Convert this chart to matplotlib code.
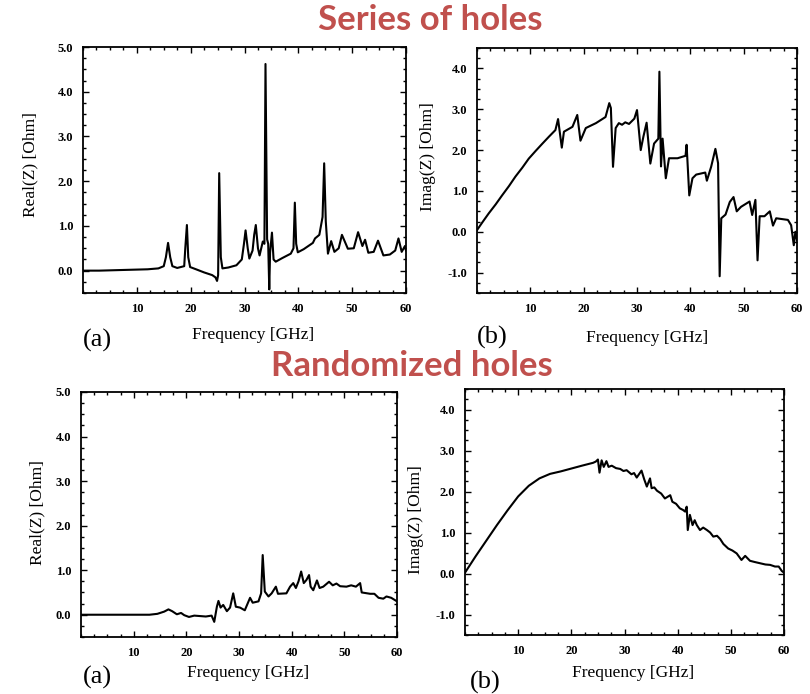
import matplotlib
matplotlib.use("Agg")
import matplotlib.pyplot as plt
from matplotlib.ticker import FixedLocator, MultipleLocator

# impedance of a pipe with a series of holes: real part
series_re_f = [0, 3, 6, 9, 12, 14, 15.0, 15.4, 15.8, 16.2, 16.6, 17.5, 18.8, 19.0, 19.3, 19.55,
               19.9, 21, 22.5, 24, 24.6, 24.9, 25.1, 25.3, 25.6, 25.9, 27, 28.5, 29.5, 29.9,
               30.2, 30.6, 30.9, 31.5, 31.8, 32.1, 32.5, 32.8, 33.4, 33.7, 33.9, 34.2, 34.4,
               34.6, 34.75, 35.1, 35.4, 35.8, 37, 38.6, 39.1, 39.35, 39.6, 39.9, 41, 42.7, 43.1,
               43.9, 44.5, 44.8, 45.1, 45.5, 46.1, 46.7, 47.5, 48.1, 49.2, 50.3, 51.1, 51.9,
               52.4, 53.0, 54.0, 54.8, 55.8, 57.0, 58.0, 58.6, 59.2, 59.8, 60]
series_re_v = [0.0, 0.0, 0.01, 0.02, 0.03, 0.05, 0.1, 0.3, 0.62, 0.3, 0.1, 0.06, 0.1, 0.5, 1.02,
               0.3, 0.08, 0.03, -0.04, -0.1, -0.15, -0.23, -0.1, 2.18, 0.3, 0.05, 0.07, 0.12,
               0.25, 0.6, 0.9, 0.5, 0.27, 0.45, 0.8, 1.02, 0.5, 0.34, 0.65, 0.6, 4.62, 0.7,
               0.6, -0.42, 0.4, 0.85, 0.25, 0.2, 0.28, 0.38, 0.5, 1.52, 0.6, 0.41, 0.48, 0.62,
               0.72, 0.8, 1.2, 2.4, 1.1, 0.38, 0.66, 0.42, 0.5, 0.8, 0.49, 0.5, 0.86, 0.55,
               0.69, 0.4, 0.42, 0.67, 0.34, 0.36, 0.45, 0.72, 0.42, 0.55, 0.45]

# series of holes: imaginary part
series_im_f = [0, 1, 2.2, 3.5, 4.7, 6, 7.2, 8.5, 9.7, 11, 12.2, 13.5, 14.7, 15.2, 15.9, 16.3, 17.9,
               18.8, 19.4, 20.4, 22.3, 24.1, 24.8, 25.1, 25.5, 26.0, 26.6, 27.2, 27.8, 28.5,
               29.5, 30.0, 30.7, 31.2, 31.8, 32.5, 33.2, 34.0, 34.2, 34.5, 34.8, 35.4, 36.0,
               37.6, 39.1, 39.3, 39.8, 40.4, 41.1, 42.8, 43.1, 43.9, 44.7, 45.2, 45.5, 45.8,
               46.6, 47.4, 48.1, 48.7, 49.5, 51.1, 51.6, 52.2, 52.6, 53.0, 53.9, 54.9, 55.5,
               56.1, 58.3, 58.9, 59.4, 59.7, 60]
series_im_v = [0.04, 0.23, 0.45, 0.67, 0.89, 1.12, 1.35, 1.57, 1.79, 1.98, 2.15, 2.33, 2.49, 2.76,
               2.06, 2.45, 2.57, 2.86, 2.23, 2.54, 2.66, 2.81, 3.15, 3.03, 1.59, 2.54, 2.66,
               2.62, 2.68, 2.64, 2.77, 2.98, 2.0, 2.33, 2.67, 1.67, 2.16, 2.28, 3.92, 1.6, 2.28,
               1.31, 1.8, 1.8, 1.86, 2.13, 0.89, 1.31, 1.4, 1.45, 1.25, 1.59, 2.03, 1.68, -1.09,
               0.33, 0.42, 0.73, 0.85, 0.5, 0.61, 0.74, 0.41, 0.78, -0.7, 0.38, 0.38, 0.5, 0.15,
               0.33, 0.29, 0.16, -0.33, 0.0, -0.2]

# randomized holes: real part
rand_re_f = [0, 5, 10, 13, 14.5, 15.8, 16.6, 17.3, 18.2, 19.0, 19.6, 20.5, 21.5, 22.6, 23.7,
             24.8, 25.3, 25.8, 26.1, 26.5, 27.0, 27.7, 28.3, 28.9, 29.4, 30.2, 31.1, 32.1,
             32.6, 33.7, 34.2, 34.5, 34.9, 35.6, 36.2, 37.0, 37.4, 39.0, 39.7, 40.3, 40.8,
             41.3, 41.8, 42.3, 42.8, 43.3, 43.6, 44.1, 44.8, 45.3, 46.0, 47.1, 47.8, 48.5,
             49.2, 50.4, 51.3, 52.2, 53.0, 53.3, 54.9, 55.7, 56.5, 57.4, 58.0, 58.9, 60]
rand_re_v = [0.0, 0.0, 0.0, 0.0, 0.02, 0.07, 0.12, 0.08, 0.01, 0.04, -0.01, -0.05, -0.02, -0.03,
             -0.04, -0.02, -0.16, 0.18, 0.31, 0.16, 0.22, 0.08, 0.16, 0.48, 0.18, 0.16, 0.1,
             0.38, 0.27, 0.3, 0.48, 1.34, 0.52, 0.41, 0.48, 0.63, 0.47, 0.48, 0.63, 0.71, 0.6,
             0.75, 0.97, 0.71, 0.78, 0.89, 0.63, 0.55, 0.77, 0.6, 0.63, 0.74, 0.66, 0.7, 0.64,
             0.63, 0.66, 0.63, 0.71, 0.5, 0.47, 0.47, 0.38, 0.36, 0.41, 0.38, 0.3]

# randomized holes: imaginary part
rand_im_f = [0, 2, 4, 6, 8, 10, 12, 14, 16, 18, 20, 22, 24.1, 24.6, 25.0, 25.3, 25.7, 26.1, 26.6,
             27.0, 27.6, 28.4, 29.2, 29.8, 30.4, 31.3, 31.8, 32.3, 33.2, 33.7, 34.2, 34.8, 35.1,
             35.6, 36.1, 36.9, 37.6, 38.6, 39.0, 39.7, 40.4, 41.0, 41.4, 41.7, 41.9, 42.3, 42.8,
             43.2, 43.6, 44.2, 44.8, 45.5, 46.1, 46.7, 47.4, 48.0, 48.6, 49.5, 50.3, 51.1,
             52.0, 52.7, 53.6, 54.5, 55.5, 56.5, 57.4, 58.3, 59.0, 59.6, 60]
rand_im_v = [0.02, 0.42, 0.8, 1.18, 1.54, 1.88, 2.14, 2.32, 2.43, 2.49, 2.56, 2.63, 2.70, 2.73,
             2.78, 2.46, 2.76, 2.6, 2.74, 2.6, 2.63, 2.57, 2.55, 2.5, 2.52, 2.42, 2.45, 2.34,
             2.51, 2.3, 2.12, 2.32, 2.08, 2.1, 2.02, 1.95, 1.83, 1.91, 1.75, 1.7, 1.59, 1.55,
             1.51, 1.63, 1.06, 1.43, 1.18, 1.3, 1.18, 1.06, 1.12, 1.06, 1.0, 0.90, 0.92, 0.84,
             0.72, 0.61, 0.56, 0.49, 0.33, 0.43, 0.31, 0.28, 0.25, 0.22, 0.21, 0.17, 0.17,
             0.06, 0.02]

W, H = 810, 694
fig = plt.figure(figsize=(W / 100, H / 100), dpi=100)


def box(left, top, right, bottom):
    return [left / W, 1 - bottom / H, (right - left) / W, (bottom - top) / H]


def fxy(x, y):
    return x / W, 1 - y / H


tick_font = dict(family="Liberation Serif", weight="bold", size=9)
label_font = dict(family="Liberation Serif", size=12.5)
red = "#C0504D"


def panel(rect, f, v, ylim, yticks):
    ax = fig.add_axes(rect)
    ax.plot(f, v, color="black", lw=1.5)
    ax.set_xlim(0, 60)
    ax.set_ylim(*ylim)
    ax.xaxis.set_major_locator(FixedLocator([10, 20, 30, 40, 50, 60]))
    ax.set_xticklabels(["10", "20", "30", "40", "50", "60"], fontdict=tick_font)
    ax.xaxis.set_minor_locator(MultipleLocator(2.5))
    ax.yaxis.set_major_locator(FixedLocator(yticks))
    ax.set_yticklabels(["%.1f" % t for t in yticks], fontdict=tick_font)
    ax.yaxis.set_minor_locator(MultipleLocator(0.25))
    ax.tick_params(which="both", direction="in", top=True, right=True, width=1)
    ax.tick_params(which="major", length=4, pad=7)
    ax.tick_params(which="minor", length=2.5)
    for s in ax.spines.values():
        s.set_linewidth(1.3)
    return ax


panel(box(83, 47, 406, 293), series_re_f, series_re_v, (-0.5, 5.0), [0, 1, 2, 3, 4, 5])
panel(box(477, 48, 797, 293), series_im_f, series_im_v, (-1.5, 4.5), [-1, 0, 1, 2, 3, 4])
panel(box(81, 392, 397, 637), rand_re_f, rand_re_v, (-0.5, 5.0), [0, 1, 2, 3, 4, 5])
panel(box(465, 389, 784, 635), rand_im_f, rand_im_v, (-1.5, 4.5), [-1, 0, 1, 2, 3, 4])

# axis labels and panel letters
for x, y in [(253, 335), (647, 338), (248, 673), (633, 673)]:
    fig.text(*fxy(x, y), "Frequency [GHz]", ha="center", va="center", **label_font)
for x, y, s in [(30, 165, "Real(Z) [Ohm]"), (428, 157, "Imag(Z) [Ohm]"),
                (37, 513, "Real(Z) [Ohm]"), (416, 520, "Imag(Z) [Ohm]")]:
    fig.text(*fxy(x, y), s, ha="center", va="center", rotation=90, **label_font)
for x, y, s in [(97, 340, "(a)"), (492, 337, "(b)"), (97, 677, "(a)"), (485, 682, "(b)")]:
    fig.text(*fxy(x, y), s, ha="center", va="center", family="Liberation Serif", size=19)

fig.text(*fxy(430, 20), "Series of holes", ha="center", va="center",
         family="Lato", weight="bold", size=25, color=red)
fig.text(*fxy(412, 366), "Randomized holes", ha="center", va="center",
         family="Lato", weight="bold", size=25, color=red)

fig.savefig("out.png", dpi=100)
